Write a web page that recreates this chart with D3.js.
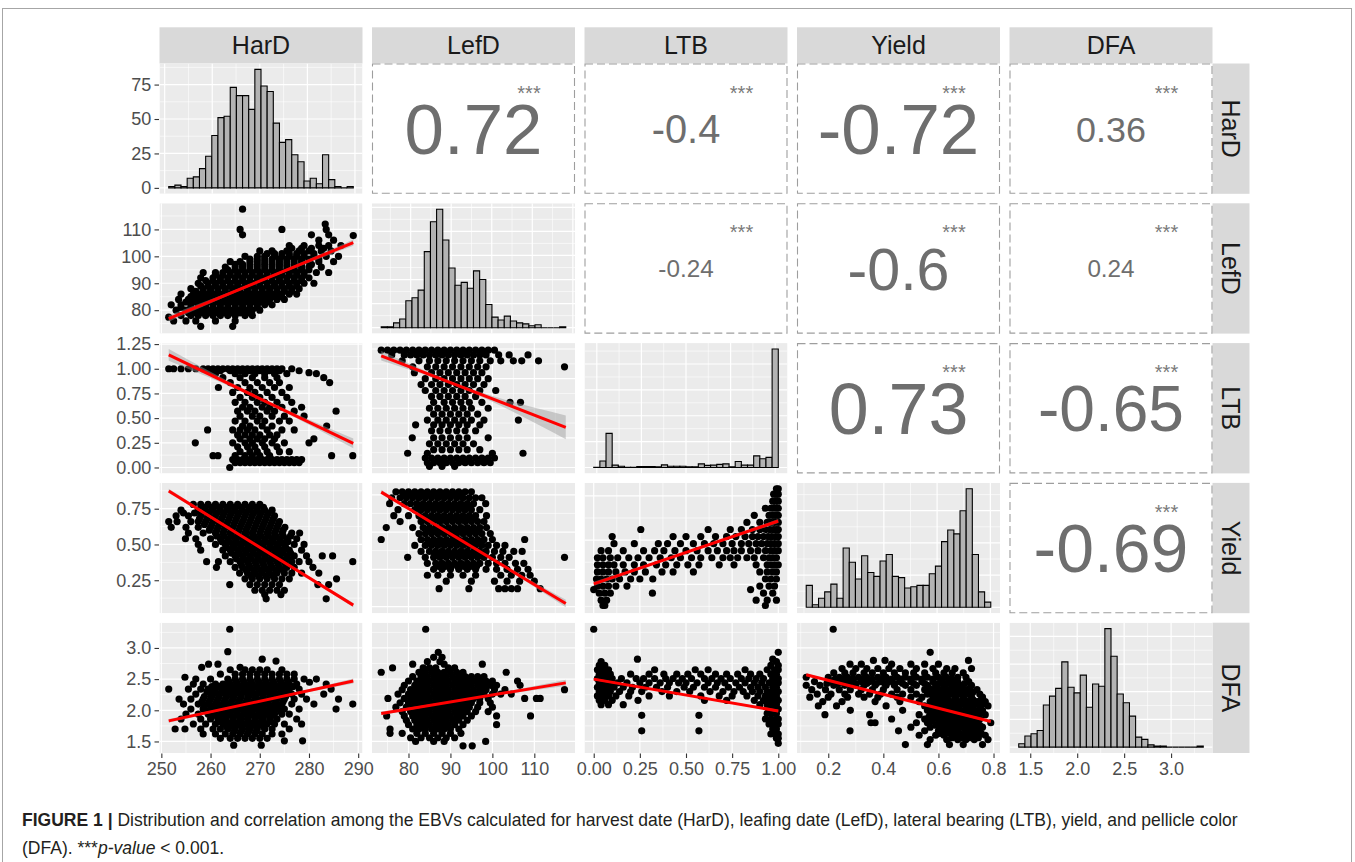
<!DOCTYPE html>
<html>
<head>
<meta charset="utf-8">
<script src="https://cdn.jsdelivr.net/npm/d3@7"></script>
<style>
  body { margin: 0; background: #fff; }
  svg { font-family: "Liberation Sans", Arial, Helvetica, sans-serif; }
</style>
</head>
<body>
<svg width="1355" height="862"></svg>
<script>
// ggpairs-style matrix: histograms on the diagonal, scatter + lm fit below, correlations above

var vars = ["HarD", "LefD", "LTB", "Yield", "DFA"];
var varMin = [251.5, 73.5, 0, 0.12, 1.41];
var varMax = [289, 117.5, 1, 0.79, 3.31];

// axis breaks and their labels (bottom axes per column, left axes per row)
var xBreaks = [[250, 260, 270, 280, 290], [80, 90, 100, 110], [0, 0.25, 0.5, 0.75, 1], [0.2, 0.4, 0.6, 0.8], [1.5, 2, 2.5, 3]];
var xLabels = [["250", "260", "270", "280", "290"], ["80", "90", "100", "110"], ["0.00", "0.25", "0.50", "0.75", "1.00"], ["0.2", "0.4", "0.6", "0.8"], ["1.5", "2.0", "2.5", "3.0"]];
var yBreaks = [[0, 25, 50, 75], [80, 90, 100, 110], [0, 0.25, 0.5, 0.75, 1, 1.25], [0.25, 0.5, 0.75], [1.5, 2, 2.5, 3]];
var yLabels = [["0", "25", "50", "75"], ["80", "90", "100", "110"], ["0.00", "0.25", "0.50", "0.75", "1.00", "1.25"], ["0.25", "0.50", "0.75"], ["1.5", "2.0", "2.5", "3.0"]];

// histogram counts, 30 bins each
var histHarD = [1, 2, 1, 7, 8, 14, 23, 38, 51, 52, 73, 67, 67, 57, 86, 74, 70, 47, 33, 35, 24, 19, 5, 7, 3, 24, 6, 1, 0, 1];
var histLefD = [1, 1, 5, 9, 28, 31, 39, 79, 110, 123, 91, 62, 44, 47, 41, 59, 50, 24, 11, 8, 12, 7, 5, 4, 2, 3, 0, 0, 0, 1];
var histLTB = [1, 25, 132, 9, 5, 1, 1, 4, 4, 4, 3, 10, 5, 5, 5, 3, 3, 14, 8, 9, 12, 14, 3, 23, 9, 9, 45, 34, 39, 458];
var histYield = [17, 2, 7, 12, 18, 7, 46, 35, 22, 40, 27, 24, 36, 41, 24, 23, 15, 16, 17, 17, 26, 32, 51, 60, 57, 75, 92, 41, 12, 4];
var histDFA = [3, 10, 12, 15, 38, 46, 53, 77, 54, 49, 65, 36, 57, 55, 107, 82, 48, 40, 28, 9, 7, 2, 1, 1, 0, 0, 0, 0, 0, 1];
var histCounts = [histHarD, histLefD, histLTB, histYield, histDFA];

// correlations (upper triangle)
var corRows = [0, 0, 0, 0, 1, 1, 1, 2, 2, 3];
var corCols = [1, 2, 3, 4, 2, 3, 4, 3, 4, 4];
var corVals = [0.72, -0.4, -0.72, 0.36, -0.24, -0.6, 0.24, 0.73, -0.65, -0.69];
var corStars = "***";

// scatter points, one row per y value: [y, x, x, x ...]
var hardLefd = [
  [74, 258, 264.5],
  [76, 252.5, 255, 257, 261, 265],
  [77.4, 251.5],
  [78, 254, 256, 257.5, 259, 260.5, 262, 263.5, 265, 267, 268.5],
  [79, 255.5, 257, 258.5, 260, 261.5, 263, 264.5, 266, 267.5],
  [80, 253, 255, 256.5, 258, 259.5, 261, 262.5, 264, 265.5, 267, 268.5, 270],
  [81, 254, 256, 257.5, 259, 260.5, 262, 263.5, 265, 266.5, 268, 269.5],
  [82, 252, 254, 256, 257.5, 259, 260.5, 262, 263.5, 265, 266.5, 268, 269.5, 271, 272.5],
  [83, 255, 256.5, 258, 259.5, 261, 262.5, 264, 265.5, 267, 268.5, 270, 271.5],
  [84, 253.5, 255.5, 257, 258.5, 260, 261.5, 263, 264.5, 266, 267.5, 269, 270.5, 272, 273.5, 275],
  [85, 256, 257.5, 259, 260.5, 262, 263.5, 265, 266.5, 268, 269.5, 271, 272.5, 274],
  [86, 254, 256.5, 258, 259.5, 261, 262.5, 264, 265.5, 267, 268.5, 270, 271.5, 273, 274.5, 276, 277.5],
  [87, 257, 258.5, 260, 261.5, 263, 264.5, 266, 267.5, 269, 270.5, 272, 273.5, 275, 276.5],
  [88, 256, 258.5, 260, 261.5, 263, 264.5, 266, 267.5, 269, 270.5, 272, 273.5, 275, 276.5, 278],
  [89, 258, 259.5, 261, 262.5, 264, 265.5, 267, 268.5, 270, 271.5, 273, 274.5, 276, 277.5],
  [90, 257.5, 259.5, 261, 262.5, 264, 265.5, 267, 268.5, 270, 271.5, 273, 274.5, 276, 277.5, 279, 281],
  [91, 259, 260.5, 262, 263.5, 265, 266.5, 268, 269.5, 271, 272.5, 274, 275.5, 277, 278.5],
  [92, 258, 260.5, 262, 263.5, 265, 266.5, 268, 269.5, 271, 272.5, 274, 275.5, 277, 278.5, 280],
  [93, 261, 262.5, 264, 265.5, 267, 268.5, 270, 271.5, 273, 274.5, 276, 277.5, 279],
  [94, 258.5, 261, 262.5, 264, 265.5, 267, 268.5, 270, 271.5, 273, 274.5, 276, 277.5, 279, 281.5, 284],
  [95, 263.5, 265, 266.5, 268, 269.5, 271, 272.5, 274, 275.5, 277, 278.5, 280],
  [96, 263, 265, 266.5, 268, 269.5, 271, 272.5, 274, 275.5, 277, 278.5, 280, 282.5],
  [97, 265, 266.5, 268, 269.5, 271, 272.5, 274, 275.5, 277, 278.5, 280.5],
  [98, 264, 266, 268, 269.5, 271, 272.5, 274, 275.5, 277, 278.5, 280, 282, 285],
  [99, 268, 269.5, 271, 272.5, 274, 275.5, 277, 278.5, 280, 282],
  [100, 267, 269.5, 271, 273, 274.5, 276, 277.5, 279, 281, 283.5, 286],
  [101, 271.5, 273, 274.5, 276, 277.5, 279, 281],
  [102, 270, 272.5, 275.5, 278, 280, 282.5, 284.5],
  [103, 276.5, 278.5, 280.5, 283],
  [104, 276, 279, 282, 284, 286.5],
  [106, 282, 285],
  [107.7, 289],
  [108, 266.5, 280.5, 284],
  [110, 266, 274.5, 283.5],
  [112, 283.3],
  [117.5, 266.5]
];

var hardLtb = [
  [1.0, 251.5, 252.5, 254, 255.5, 257, 258.5, 259.5, 260.5, 261.5, 262.5, 263.5, 264.5, 265.5, 266.5, 267.5, 268.5, 269.5, 270.5, 271.5, 272.5, 273.5, 274.5, 276.5],
  [0.98, 260, 262, 264, 266, 268, 270, 272, 274, 278],
  [0.96, 280],
  [0.95, 261, 265, 267, 269, 271, 273, 275.5, 281.5],
  [0.91, 262.5, 266, 268.5, 271, 273.5, 283],
  [0.86, 264, 267, 269.5, 272, 274, 284.2],
  [0.81, 261.6, 265.5, 268, 270.5, 273, 276],
  [0.76, 264.5, 267.5, 269, 271.5, 274.5],
  [0.71, 266, 268.5, 270, 272.5, 275.5],
  [0.66, 265, 267, 269.5, 271, 273.5, 276.5],
  [0.61, 266.5, 268, 270.5, 272, 274.5, 278.5],
  [0.57, 265.5, 267.5, 269, 271.5, 273, 277, 285.5],
  [0.52, 266, 268.5, 270, 272.5, 275, 279],
  [0.47, 265, 267, 269.5, 271, 274, 276],
  [0.42, 266.5, 268, 270.5, 272.5, 283.6],
  [0.38, 259.4, 264.5, 266, 267.5, 269, 271.5, 274.5, 277],
  [0.33, 265.5, 267, 268.5, 270, 272, 273.5],
  [0.29, 266, 268, 269.5, 271, 273, 281],
  [0.25, 256.9, 264.5, 267, 268.5, 270.5, 272.5, 275, 280],
  [0.21, 265.5, 267.5, 269, 271, 273.5],
  [0.16, 266, 268, 269.5, 271.5, 274, 276],
  [0.12, 260.5, 261.5, 265, 267, 268.5, 270, 272, 284.6, 288.9],
  [0.08, 264.5, 265.5, 266.5, 267.5, 268.5, 269.5, 270.5, 271.5, 272.5, 273.5, 274.5, 275.5, 276.5, 277.5, 278.5],
  [0.05, 265, 266, 267, 268, 269, 270, 271, 272, 273, 274, 275, 276, 277, 278],
  [0.0, 263.9]
];

var lefdLtb = [
  [0.99, 73.5, 75, 76.5, 78, 79.5, 81, 82.5, 84, 85.5, 87, 88.5, 90, 91.5, 93, 94.5, 96, 97.5, 99, 100.5],
  [0.95, 76, 79, 80.5, 82, 83.5, 85, 86.5, 88, 89.5, 91, 92.5, 94, 95.5, 97, 98.5, 101.5, 104, 108.5],
  [0.90, 78.5, 82.5, 85, 87, 89, 91, 93, 95, 97, 99.5, 102, 105, 107, 111],
  [0.85, 81, 84.5, 86.5, 88.5, 90.5, 92.5, 94.5, 96.5, 98.5, 117.2],
  [0.80, 81.4, 85.5, 87.5, 89.5, 91.5, 93.5, 95.5, 97.5],
  [0.75, 84, 86.5, 88.5, 90.5, 92.5, 94.5, 96.5, 99],
  [0.70, 83, 85.5, 87.5, 89.5, 91.5, 93.5, 95.5, 98],
  [0.65, 84, 86.5, 88.5, 90.5, 92.5, 94.5, 97, 100.8],
  [0.60, 85.5, 87.5, 89.5, 91.5, 93.5, 96],
  [0.55, 86, 88.5, 90.5, 92.5, 94.5, 97.5, 104.2, 106.7],
  [0.50, 85, 87, 89, 91, 93, 95, 99],
  [0.45, 86, 88, 90, 92, 94, 96.5],
  [0.40, 84.5, 87, 89, 91, 93, 95, 98, 106.2],
  [0.36, 81.7, 86, 88, 90, 92, 94, 97],
  [0.31, 85.5, 87.5, 89.5, 91.5, 93.5, 96],
  [0.25, 80.9, 86, 88, 90, 92, 94, 99],
  [0.20, 85, 87, 89, 91, 93, 95.5],
  [0.15, 86, 88, 90, 92, 94, 97],
  [0.12, 79.8, 84.5, 100, 107.3],
  [0.08, 84, 85.5, 87, 88.5, 90, 91.5, 93, 94.5, 96, 97.5, 99, 100.5],
  [0.04, 84.5, 86, 87.5, 89, 90.5, 92, 93.5, 95, 96.5, 98, 99.5],
  [0.01, 85, 88, 91]
];

var hardYield = [
  [0.78, 256.5, 258, 259.5, 261, 262.5, 264, 265.5, 267, 268.5, 270],
  [0.76, 258.75, 260.25, 261.75, 263.25, 264.75, 266.25, 267.75, 269.25, 270.75],
  [0.74, 254, 257.5, 259, 260.5, 262, 263.5, 265, 266.5, 268, 269.5, 271, 272.5],
  [0.72, 254.5, 256.75, 258.25, 259.75, 261.25, 262.75, 264.25, 265.75, 267.25, 268.75, 270.25, 271.75],
  [0.70, 253, 255.5, 258, 259.5, 261, 262.5, 264, 265.5, 267, 268.5, 270, 271.5, 273],
  [0.68, 257.75, 259.25, 260.75, 262.25, 263.75, 265.25, 266.75, 268.25, 269.75, 271.25, 272.75],
  [0.66, 251.5, 253.2, 256, 257.5, 259, 260.5, 262, 263.5, 265, 266.5, 268, 269.5, 271, 272.5, 274],
  [0.64, 258.75, 260.25, 261.75, 263.25, 264.75, 266.25, 267.75, 269.25, 270.75, 272.25, 273.75],
  [0.62, 252, 255, 257.5, 260, 261.5, 263, 264.5, 266, 267.5, 269, 270.5, 272, 273.5, 275.1],
  [0.60, 259.75, 261.25, 262.75, 264.25, 265.75, 267.25, 268.75, 270.25, 271.75, 273.25, 274.75],
  [0.58, 255.5, 258.5, 261, 262.5, 264, 265.5, 267, 268.5, 270, 271.5, 273, 274.5, 276.5, 278.1],
  [0.56, 261.25, 262.75, 264.25, 265.75, 267.25, 268.75, 270.25, 271.75, 273.25, 274.75, 276.25],
  [0.54, 254.9, 257, 260, 262, 263.5, 265, 266.5, 268, 269.5, 271, 272.5, 274, 275.5, 277.5],
  [0.52, 262.25, 263.75, 265.25, 266.75, 268.25, 269.75, 271.25, 272.75, 274.25, 275.75],
  [0.50, 257.5, 261, 263, 264.5, 266, 267.5, 269, 270.5, 272, 273.5, 275, 277, 279],
  [0.48, 263.25, 264.75, 266.25, 267.75, 269.25, 270.75, 272.25, 273.75, 275.25],
  [0.46, 258, 262.5, 264, 265.5, 267, 268.5, 270, 271.5, 273, 274.5, 276, 278.5],
  [0.44, 264.25, 265.75, 267.25, 268.75, 270.25, 271.75, 273.25, 274.75, 276.25],
  [0.42, 263, 265, 266.5, 268, 269.5, 271, 272.5, 274, 275.5, 277, 279.5, 282.7, 284.8],
  [0.40, 265.25, 266.75, 268.25, 269.75, 271.25, 272.75, 274.25, 275.75],
  [0.38, 259.2, 261.6, 264, 266, 267.5, 269, 270.5, 272, 273.5, 275, 276.5, 278, 280, 288.9],
  [0.36, 266.25, 267.75, 269.25, 270.75, 272.25, 273.75, 275.25],
  [0.34, 261.2, 265, 266.5, 268, 269.5, 271, 272.5, 274, 275.5, 277, 280.8],
  [0.32, 267.25, 268.75, 270.25, 271.75, 273.25, 274.75],
  [0.30, 265.9, 267.5, 269, 270.5, 272, 273.5, 275, 276.5, 278.5, 282],
  [0.28, 268.25, 269.75, 271.25, 272.75],
  [0.26, 267, 268.5, 270, 271.5, 273, 274.5, 276, 285.6],
  [0.22, 263.9, 268, 269.5, 271, 272.5, 274, 281.8, 284],
  [0.18, 269, 270.5, 272, 273.5, 275],
  [0.15, 271, 274.3],
  [0.12, 271.3, 283.5]
];

var lefdYield = [
  [0.77, 77, 78.5, 80, 81.5, 83, 84.5, 86, 87.5, 89, 90.5, 92, 93.5, 95],
  [0.75, 79.25, 80.75, 82.25, 83.75, 85.25, 86.75, 88.25, 89.75, 91.25, 92.75],
  [0.73, 76, 78, 79.5, 81, 82.5, 84, 85.5, 87, 88.5, 90, 91.5, 93, 94.5, 96, 97.5],
  [0.69, 75.5, 79, 80.5, 82, 83.5, 85, 86.5, 88, 89.5, 91, 92.5, 94, 95.5, 98.4],
  [0.67, 82.25, 83.75, 85.25, 86.75, 88.25, 89.75, 91.25, 92.75, 94.25],
  [0.65, 77.5, 81.5, 83, 84.5, 86, 87.5, 89, 90.5, 92, 93.5, 95, 97],
  [0.61, 76.5, 80, 82.5, 84, 85.5, 87, 88.5, 90, 91.5, 93, 94.5, 96, 98.6],
  [0.59, 83.75, 85.25, 86.75, 88.25, 89.75, 91.25, 92.75, 94.25, 95.75],
  [0.57, 78, 83, 84.5, 86, 87.5, 89, 90.5, 92, 93.5, 95, 96.5, 98],
  [0.53, 74.7, 81, 83.5, 85, 86.5, 88, 89.5, 91, 92.5, 94, 95.5, 97, 98.6],
  [0.51, 84.75, 86.25, 87.75, 89.25, 90.75, 92.25, 93.75, 95.25, 96.75],
  [0.49, 82.5, 84, 85.5, 87, 88.5, 90, 91.5, 93, 94.5, 96, 97.5, 99.5],
  [0.45, 73.5, 83, 84.5, 86, 87.5, 89, 90.5, 92, 93.5, 95, 96.5, 98, 100, 107.7],
  [0.43, 85.25, 86.75, 88.25, 89.75, 91.25, 92.75, 94.25, 95.75, 97.25],
  [0.41, 81.5, 84, 85.5, 87, 88.5, 90, 91.5, 93, 94.5, 96, 97.5, 99, 101, 103],
  [0.37, 83, 85, 86.5, 88, 89.5, 91, 92.5, 94, 95.5, 97, 98.5, 100.5, 102.5, 105.1, 107.1],
  [0.35, 86.25, 87.75, 89.25, 90.75, 92.25, 93.75, 95.25, 96.75, 98.25],
  [0.33, 79.8, 84, 86, 87.5, 89, 90.5, 92, 93.5, 95, 96.5, 98, 100, 102, 104, 117.2],
  [0.29, 84.5, 86.5, 88, 89.5, 91, 92.5, 94, 95.5, 97, 99, 101, 103, 105.5, 107.5],
  [0.27, 87.25, 88.75, 90.25, 91.75, 93.25, 94.75, 96.25],
  [0.25, 86, 88, 90, 92, 94, 96, 98.5, 101, 103.5, 106, 108.5],
  [0.21, 84.5, 87, 90, 93, 96, 102, 104.5, 107, 109],
  [0.17, 89, 95, 100.5, 103.5, 106.5, 110],
  [0.12, 87.3, 94.4, 101.5, 103, 104.5, 106, 111.4]
];

var ltbYield = [
  [0.79, 0.99, 1.0],
  [0.76, 0.975, 0.99, 1.0],
  [0.72, 0.97, 0.985, 1.0],
  [0.68, 0.93, 0.96, 0.975, 0.99, 1.0],
  [0.64, 0.87, 0.95, 0.97, 0.985, 1.0],
  [0.60, 0.83, 0.9, 0.94, 0.96, 0.98, 1.0],
  [0.56, 0.255, 0.62, 0.74, 0.8, 0.86, 0.9, 0.93, 0.955, 0.975, 0.99, 1.0],
  [0.52, 0.1, 0.43, 0.5, 0.58, 0.66, 0.72, 0.77, 0.82, 0.86, 0.89, 0.92, 0.945, 0.965, 0.985, 1.0],
  [0.48, 0.11, 0.22, 0.35, 0.4, 0.47, 0.54, 0.6, 0.65, 0.7, 0.75, 0.8, 0.84, 0.88, 0.91, 0.94, 0.96, 0.98, 1.0],
  [0.44, 0.04, 0.08, 0.16, 0.27, 0.33, 0.38, 0.44, 0.5, 0.56, 0.62, 0.67, 0.72, 0.76, 0.8, 0.85, 0.89, 0.93, 0.96, 0.98, 1.0],
  [0.40, 0.02, 0.05, 0.09, 0.13, 0.19, 0.24, 0.3, 0.36, 0.42, 0.47, 0.53, 0.58, 0.64, 0.7, 0.74, 0.78, 0.83, 0.87, 0.92, 0.95, 0.97, 0.99],
  [0.36, 0.02, 0.05, 0.08, 0.11, 0.16, 0.22, 0.27, 0.34, 0.39, 0.45, 0.51, 0.57, 0.68, 0.76, 0.88, 0.94, 0.96, 0.98, 1.0],
  [0.32, 0.02, 0.05, 0.08, 0.12, 0.17, 0.22, 0.28, 0.37, 0.43, 0.54, 0.9, 0.94, 0.97, 0.99],
  [0.28, 0.015, 0.04, 0.07, 0.1, 0.14, 0.2, 0.25, 0.32, 0.93, 0.96, 0.99],
  [0.24, 0.02, 0.05, 0.08, 0.12, 0.18, 0.9, 0.95, 0.98],
  [0.22, 0.0, 0.85],
  [0.20, 0.03, 0.06, 0.09, 0.318, 0.92, 0.97],
  [0.16, 0.04, 0.07, 0.88, 0.94, 0.99],
  [0.13, 0.05, 0.06, 0.93]
];

var hardDfa = [
  [3.30, 263.9],
  [2.94, 263.5],
  [2.82, 270.5],
  [2.79, 273.3],
  [2.74, 259.6, 261.5],
  [2.69, 258.2, 266],
  [2.65, 264, 267, 268.5, 270, 271.5, 274.5],
  [2.58, 262, 265, 266.5, 268, 269.5, 271, 272.5, 274, 275.5, 277],
  [2.53, 254.8],
  [2.50, 257, 260, 263.5, 265, 266.5, 268, 269.5, 271, 272.5, 274, 275.5, 277, 279, 281.5],
  [2.46, 263.75, 265.25, 266.75, 268.25, 269.75, 271.25, 272.75, 274.25, 275.75],
  [2.45, 280.1],
  [2.42, 256.5, 258.5, 261, 262.5, 264, 265.5, 267, 268.5, 270, 271.5, 273, 274.5, 276, 277.5, 283.5],
  [2.38, 260.25, 261.75, 263.25, 264.75, 266.25, 267.75, 269.25, 270.75, 272.25, 273.75, 275.25, 276.75],
  [2.34, 251.5, 255.5, 258, 259.5, 261, 262.5, 264, 265.5, 267, 268.5, 270, 271.5, 273, 274.5, 276, 278, 284.5],
  [2.30, 259.25, 260.75, 262.25, 263.75, 265.25, 266.75, 268.25, 269.75, 271.25, 272.75, 274.25, 275.75],
  [2.26, 257, 260, 261.5, 263, 264.5, 266, 267.5, 269, 270.5, 272, 273.5, 275, 276.5, 278.5, 283],
  [2.22, 258.75, 260.25, 261.75, 263.25, 264.75, 266.25, 267.75, 269.25, 270.75, 272.25, 273.75, 275.25],
  [2.18, 253.6, 256, 258.5, 260, 261.5, 263, 264.5, 266, 267.5, 269, 270.5, 272, 273.5, 275, 277, 279.5, 286],
  [2.14, 258.25, 259.75, 261.25, 262.75, 264.25, 265.75, 267.25, 268.75, 270.25, 271.75, 273.25, 274.75],
  [2.10, 254.5, 257.5, 259.5, 261, 262.5, 264, 265.5, 267, 268.5, 270, 271.5, 273, 274.5, 276.5, 281, 288.9],
  [2.06, 258.75, 260.25, 261.75, 263.25, 264.75, 266.25, 267.75, 269.25, 270.75, 272.25, 273.75],
  [2.02, 256, 258.5, 260, 261.5, 263, 264.5, 266, 267.5, 269, 270.5, 272, 273.5, 275, 278, 285.5],
  [1.98, 259.25, 260.75, 262.25, 263.75, 265.25, 266.75, 268.25, 269.75, 271.25, 272.75, 274.25],
  [1.94, 255, 257.5, 259.5, 261, 262.5, 264, 265.5, 267, 268.5, 270, 271.5, 273, 274.5, 276],
  [1.90, 260.25, 261.75, 263.25, 264.75, 266.25, 267.75, 269.25, 270.75, 272.25],
  [1.86, 254, 258, 260, 261.5, 263, 264.5, 266, 267.5, 269, 270.5, 272, 273.5, 277.5],
  [1.82, 261.75, 263.25, 264.75, 266.25, 267.75, 269.25, 270.75, 272.25],
  [1.78, 256.5, 259, 261, 262.5, 264, 265.5, 267, 268.5, 270, 271.5, 273, 275, 278.5],
  [1.74, 263.25, 264.75, 266.25, 267.75, 269.25, 270.75],
  [1.70, 252.8, 254.8, 258, 260.5, 262, 263.5, 265, 266.5, 268, 269.5, 271, 272.5, 276],
  [1.66, 264.75, 266.25, 267.75, 269.25],
  [1.62, 258.5, 261, 263, 264.5, 266, 267.5, 269, 270.5, 272.5, 274.5],
  [1.55, 262, 264, 265.5, 267, 268.5, 270, 271.5],
  [1.51, 275, 278.7],
  [1.44, 264.7, 270.3]
];

var lefdDfa = [
  [3.30, 84.1],
  [2.93, 87.1],
  [2.85, 86, 88],
  [2.78, 84.5, 87.5],
  [2.74, 81, 88.5, 97.6],
  [2.68, 76.2, 83.5, 85, 86.5, 89.5, 91],
  [2.61, 73.5, 82.5, 84, 85.5, 87, 88.5, 90, 91.5, 93, 103.3],
  [2.54, 81, 83, 84.5, 86, 87.5, 89, 90.5, 92, 93.5, 95, 96.5, 98],
  [2.47, 80, 82, 83.5, 85, 86.5, 88, 89.5, 91, 92.5, 94, 95.5, 97, 98.5, 100, 106],
  [2.40, 79, 81.5, 83, 84.5, 86, 87.5, 89, 90.5, 92, 93.5, 95, 96.5, 98, 99.5, 101, 106.6],
  [2.33, 78.5, 80.5, 82, 83.5, 85, 86.5, 88, 89.5, 91, 92.5, 94, 95.5, 97, 98.5, 100.5, 103, 117.2],
  [2.26, 77.5, 80, 81.5, 83, 84.5, 86, 87.5, 89, 90.5, 92, 93.5, 95, 96.5, 98, 100, 102, 104.5],
  [2.19, 75.1, 79, 80.5, 82, 83.5, 85, 86.5, 88, 89.5, 91, 92.5, 94, 95.5, 97, 99, 107.7, 110.5, 111.4],
  [2.12, 78, 80, 81.5, 83, 84.5, 86, 87.5, 89, 90.5, 92, 93.5, 95, 97, 99.5],
  [2.05, 77, 79.5, 81, 82.5, 84, 85.5, 87, 88.5, 90, 91.5, 93, 94.5, 96.5, 100],
  [1.98, 78.5, 80.5, 82, 83.5, 85, 86.5, 88, 89.5, 91, 92.5, 94, 96, 99],
  [1.91, 74.8, 79, 81, 82.5, 84, 85.5, 87, 88.5, 90, 91.5, 93, 95, 101, 109.1],
  [1.84, 79.5, 81.5, 83, 84.5, 86, 87.5, 89, 90.5, 92, 94],
  [1.77, 80, 82, 83.5, 85, 86.5, 88, 89.5, 91, 93, 101],
  [1.70, 75.6, 81, 82.5, 84, 85.5, 87, 88.5, 90, 92],
  [1.63, 75.6, 78.5, 82, 84, 86, 88, 90, 92.5],
  [1.56, 80.5, 83, 85, 87, 89, 91],
  [1.50, 81.7, 86, 88.5, 98.4],
  [1.43, 93, 95.2]
];

var ltbDfa = [
  [3.30, 0.0],
  [2.93, 1.0],
  [2.82, 0.237, 0.97],
  [2.78, 0.04, 0.99],
  [2.72, 0.03, 0.06, 0.96, 1.0],
  [2.65, 0.02, 0.05, 0.08, 0.33, 0.55, 0.62, 0.82, 0.94, 0.98, 1.0],
  [2.58, 0.03, 0.06, 0.09, 0.2, 0.3, 0.38, 0.45, 0.51, 0.58, 0.66, 0.72, 0.78, 0.85, 0.9, 0.96, 0.99],
  [2.51, 0.02, 0.04, 0.07, 0.1, 0.15, 0.23, 0.27, 0.33, 0.39, 0.43, 0.48, 0.53, 0.6, 0.64, 0.69, 0.74, 0.8, 0.84, 0.88, 0.92, 0.97, 1.0],
  [2.44, 0.03, 0.06, 0.09, 0.13, 0.18, 0.25, 0.3, 0.36, 0.41, 0.46, 0.5, 0.56, 0.62, 0.67, 0.71, 0.77, 0.82, 0.87, 0.91, 0.95, 0.98, 1.0],
  [2.37, 0.02, 0.05, 0.08, 0.11, 0.16, 0.21, 0.28, 0.34, 0.4, 0.49, 0.54, 0.6, 0.66, 0.73, 0.79, 0.85, 0.89, 0.93, 0.97, 0.99],
  [2.30, 0.03, 0.06, 0.09, 0.14, 0.2, 0.26, 0.37, 0.45, 0.52, 0.63, 0.7, 0.76, 0.81, 0.86, 0.9, 0.94, 0.97, 1.0],
  [2.23, 0.02, 0.05, 0.08, 0.12, 0.19, 0.3, 0.41, 0.58, 0.68, 0.75, 0.83, 0.89, 0.93, 0.96, 0.99],
  [2.16, 0.03, 0.06, 0.1, 0.24, 0.6, 0.72, 0.87, 0.92, 0.95, 0.98, 1.0],
  [2.09, 0.04, 0.08, 0.16, 0.9, 0.94, 0.97, 0.99],
  [2.02, 0.96, 0.98, 1.0],
  [1.95, 0.94, 0.97, 0.99],
  [1.92, 0.26, 0.57],
  [1.86, 0.93, 0.96, 0.99, 1.0],
  [1.78, 0.95, 0.98, 1.0],
  [1.70, 0.97, 0.99],
  [1.67, 0.26, 0.57],
  [1.62, 0.96, 0.98, 1.0],
  [1.55, 0.99, 1.0],
  [1.47, 1.0]
];

var yieldDfa = [
  [3.30, 0.218],
  [2.93, 0.57],
  [2.80, 0.364, 0.406, 0.709],
  [2.74, 0.279, 0.32, 0.43, 0.5, 0.55, 0.6],
  [2.67, 0.25, 0.3, 0.34, 0.38, 0.42, 0.46, 0.52, 0.58, 0.63, 0.66, 0.72],
  [2.60, 0.22, 0.26, 0.29, 0.33, 0.36, 0.4, 0.44, 0.48, 0.51, 0.55, 0.59, 0.62, 0.65, 0.69],
  [2.53, 0.12, 0.2, 0.24, 0.27, 0.31, 0.34, 0.38, 0.41, 0.45, 0.48, 0.52, 0.56, 0.6, 0.63, 0.67, 0.7],
  [2.50, 0.225, 0.255, 0.29, 0.325, 0.36, 0.395, 0.43, 0.465, 0.5, 0.54, 0.58, 0.615, 0.65],
  [2.46, 0.15, 0.21, 0.25, 0.28, 0.32, 0.35, 0.39, 0.42, 0.46, 0.5, 0.54, 0.58, 0.61, 0.64, 0.67, 0.71],
  [2.43, 0.195, 0.235, 0.265, 0.3, 0.34, 0.375, 0.405, 0.44, 0.47, 0.51, 0.55, 0.6, 0.63, 0.66, 0.695],
  [2.40, 0.12, 0.17, 0.22, 0.26, 0.3, 0.33, 0.37, 0.41, 0.44, 0.48, 0.52, 0.56, 0.59, 0.62, 0.65, 0.68, 0.72],
  [2.36, 0.565, 0.595, 0.625, 0.655, 0.685, 0.715],
  [2.33, 0.14, 0.19, 0.24, 0.28, 0.32, 0.36, 0.4, 0.45, 0.5, 0.55, 0.58, 0.61, 0.64, 0.67, 0.7, 0.74],
  [2.29, 0.575, 0.605, 0.635, 0.665, 0.695, 0.725],
  [2.26, 0.16, 0.21, 0.26, 0.31, 0.35, 0.39, 0.43, 0.47, 0.52, 0.56, 0.59, 0.62, 0.65, 0.68, 0.71, 0.75],
  [2.21, 0.133, 0.2, 0.27, 0.33, 0.38, 0.45, 0.5, 0.54, 0.58, 0.6, 0.63, 0.66, 0.69, 0.72, 0.76],
  [2.17, 0.585, 0.61, 0.635, 0.665, 0.695, 0.725, 0.755],
  [2.14, 0.18, 0.25, 0.37, 0.46, 0.53, 0.57, 0.6, 0.62, 0.65, 0.68, 0.71, 0.74, 0.77],
  [2.10, 0.59, 0.615, 0.64, 0.66, 0.685, 0.71, 0.735, 0.76],
  [2.07, 0.164, 0.23, 0.41, 0.55, 0.58, 0.6, 0.63, 0.65, 0.67, 0.7, 0.72, 0.75, 0.78],
  [2.03, 0.575, 0.6, 0.625, 0.65, 0.675, 0.7, 0.725, 0.75],
  [2.00, 0.28, 0.47, 0.56, 0.59, 0.61, 0.64, 0.66, 0.68, 0.71, 0.73, 0.76],
  [1.96, 0.585, 0.61, 0.635, 0.66, 0.68, 0.705, 0.73, 0.755],
  [1.93, 0.188, 0.35, 0.53, 0.57, 0.6, 0.62, 0.65, 0.67, 0.69, 0.72, 0.74, 0.77],
  [1.89, 0.565, 0.595, 0.62, 0.645, 0.67, 0.695, 0.72, 0.745],
  [1.86, 0.43, 0.55, 0.58, 0.61, 0.63, 0.66, 0.68, 0.7, 0.73, 0.75],
  [1.83, 0.575, 0.605, 0.635, 0.66, 0.685, 0.71, 0.735],
  [1.80, 0.355, 0.37, 0.52, 0.56, 0.6, 0.62, 0.65, 0.67, 0.69, 0.72, 0.74, 0.79],
  [1.76, 0.59, 0.625, 0.65, 0.675, 0.7, 0.725, 0.75],
  [1.73, 0.5, 0.57, 0.61, 0.64, 0.66, 0.68, 0.71, 0.73, 0.76],
  [1.70, 0.615, 0.645, 0.67, 0.695, 0.72, 0.74],
  [1.67, 0.279, 0.455, 0.55, 0.6, 0.63, 0.65, 0.67, 0.7, 0.72, 0.75],
  [1.63, 0.605, 0.64, 0.675, 0.7, 0.725, 0.755],
  [1.60, 0.53, 0.59, 0.62, 0.66, 0.69, 0.71, 0.74, 0.77],
  [1.56, 0.65, 0.685, 0.715, 0.745],
  [1.53, 0.57, 0.63, 0.67, 0.7, 0.73, 0.78],
  [1.45, 0.48, 0.56, 0.64, 0.69, 0.76]
];

// linear fits: [x0, y0, x1, y1] and standard-error half widths at left, middle, right
var fitLines = [
  [251.5, 76.9, 289, 105.1], [251.5, 1.14, 289, 0.244], [73.5, 0.943, 117.5, 0.339],
  [251.5, 0.874, 289, 0.076], [73.5, 0.768, 117.5, 0.02], [0, 0.252, 1, 0.608],
  [251.5, 1.83, 289, 2.47], [73.5, 1.95, 117.5, 2.44], [0, 2.50, 1, 1.99], [0.12, 2.57, 0.79, 1.82]
];
var fitSE = [
  [1.2, 0.4, 1.2], [0.06, 0.015, 0.05], [0.04, 0.015, 0.1],
  [0.015, 0.005, 0.015], [0.015, 0.005, 0.025], [0.012, 0.006, 0.012],
  [0.03, 0.01, 0.04], [0.03, 0.01, 0.05], [0.02, 0.01, 0.02], [0.02, 0.01, 0.02]
];
var scatterRow = [1, 2, 2, 3, 3, 3, 4, 4, 4, 4];
var scatterCol = [0, 0, 1, 0, 1, 2, 0, 1, 2, 3];
var scatterData = [hardLefd, hardLtb, lefdLtb, hardYield, lefdYield, ltbYield, hardDfa, lefdDfa, ltbDfa, yieldDfa];

// ---------------------------------------------------------------------------

var svg = d3.select("svg");
var pw = 203, ph = 130.3, gap = 9.5, left0 = 159.5, top0 = 63.5;
var colX = vars.map(function(d, i) { return left0 + i * (pw + gap); });
var rowY = vars.map(function(d, i) { return top0 + i * (ph + gap); });
var panelScales = vars.map(function() { return vars.map(function() { return null; }); });

// outer frame of the figure
svg.append("rect")
    .attr("x", 2.5).attr("y", 8.5)
    .attr("width", 1349).attr("height", 900)
    .attr("fill", "none").attr("stroke", "#a6a6a6").attr("stroke-width", 1);

// ggplot style 5% expansion of a range
function expand(ext) {
    var s = ext[1] - ext[0];
    return [ext[0] - 0.05 * s, ext[1] + 0.05 * s];
}

// regular breaks continued across the whole domain
function fullBreaks(br, dom) {
    var step = br[1] - br[0], lo = br[0], hi = br[br.length - 1], out = [];
    while (lo - step >= dom[0]) lo -= step;
    while (hi + step <= dom[1]) hi += step;
    for (var v = lo; v <= hi + 1e-9; v += step) out.push(+v.toFixed(6));
    return out.filter(function(v) { return v >= dom[0] && v <= dom[1]; });
}

function minorBreaks(br, dom) {
    var step = br.length > 1 ? br[1] - br[0] : 1, out = [];
    var all = fullBreaks(br, [dom[0] - step, dom[1] + step]);
    for (var i = 0; i < all.length - 1; i++) out.push((all[i] + all[i + 1]) / 2);
    return out.filter(function(v) { return v >= dom[0] && v <= dom[1]; });
}

// count axis step, ggplot picks 25/100 style steps here
function countBreaks(maxCount) {
    var best = null;
    [1, 2.5, 5, 10, 25, 50, 100, 250, 500].forEach(function(s) {
        var n = maxCount / s;
        if (best === null || Math.abs(n - 4.5) < Math.abs(maxCount / best - 4.5)) best = s;
    });
    return [0, best];
}

// gray panel with white major/minor grid
function panelBackground(g, xs, ys, xb, yb) {
    g.append("rect").attr("width", pw).attr("height", ph).attr("fill", "#ebebeb");
    var xd = xs.domain(), yd = ys.domain();
    minorBreaks(xb, xd).forEach(function(v) {
        g.append("line").attr("x1", xs(v)).attr("x2", xs(v)).attr("y1", 0).attr("y2", ph)
            .attr("stroke", "#fff").attr("stroke-width", 0.6);
    });
    minorBreaks(yb, yd).forEach(function(v) {
        g.append("line").attr("y1", ys(v)).attr("y2", ys(v)).attr("x1", 0).attr("x2", pw)
            .attr("stroke", "#fff").attr("stroke-width", 0.6);
    });
    fullBreaks(xb, xd).forEach(function(v) {
        g.append("line").attr("x1", xs(v)).attr("x2", xs(v)).attr("y1", 0).attr("y2", ph)
            .attr("stroke", "#fff").attr("stroke-width", 1.2);
    });
    fullBreaks(yb, yd).forEach(function(v) {
        g.append("line").attr("y1", ys(v)).attr("y2", ys(v)).attr("x1", 0).attr("x2", pw)
            .attr("stroke", "#fff").attr("stroke-width", 1.2);
    });
}

function panelGroup(r, c) {
    var id = "clip" + r + "_" + c;
    svg.append("clipPath").attr("id", id)
      .append("rect").attr("width", pw).attr("height", ph);
    return svg.append("g")
        .attr("transform", "translate(" + colX[c] + "," + rowY[r] + ")")
        .attr("clip-path", "url(#" + id + ")");
}

// strips
vars.forEach(function(v, i) {
    svg.append("rect").attr("x", colX[i]).attr("y", 27.3)
        .attr("width", pw).attr("height", 36.2).attr("fill", "#d9d9d9");
    svg.append("text").attr("x", colX[i] + pw / 2).attr("y", 45.4).attr("dy", "0.36em")
        .attr("text-anchor", "middle").attr("font-size", 25).attr("fill", "#1a1a1a").text(v);

    svg.append("rect").attr("x", 1212.5).attr("y", rowY[i])
        .attr("width", 37).attr("height", ph).attr("fill", "#d9d9d9");
    svg.append("text")
        .attr("transform", "translate(1231," + (rowY[i] + ph / 2) + ") rotate(90)")
        .attr("dy", "0.36em").attr("text-anchor", "middle")
        .attr("font-size", 25).attr("fill", "#1a1a1a").text(v);
});

// diagonal: histograms
vars.forEach(function(v, i) {
    var counts = histCounts[i];
    var w = (varMax[i] - varMin[i]) / 29, start = varMin[i] - w / 2;
    var xs = d3.scaleLinear().domain(expand([start, start + 30 * w])).range([0, pw]);
    var ys = d3.scaleLinear().domain(expand([0, d3.max(counts)])).range([ph, 0]);
    panelScales[i][i] = {x: xs, y: ys};

    var g = panelGroup(i, i);
    var yb = i === 0 ? yBreaks[0] : countBreaks(d3.max(counts));
    panelBackground(g, xs, ys, xBreaks[i], yb);

    // paths so that empty bins still show their outline on the baseline
    g.selectAll("path.bar")
      .data(counts)
      .join("path")
        .attr("class", "bar")
        .attr("d", function(d, k) {
            var x0 = xs(start + k * w), x1 = xs(start + (k + 1) * w);
            return "M" + x0 + "," + ys(0) + "V" + ys(d) + "H" + x1 + "V" + ys(0) + "Z";
        })
        .attr("fill", "#b3b3b3")
        .attr("stroke", "#000")
        .attr("stroke-width", 1.1);
});

// lower triangle: scatter plots with lm fits
scatterData.forEach(function(rows, k) {
    var r = scatterRow[k], c = scatterCol[k];
    var fit = fitLines[k], se = fitSE[k];
    var pts = [];
    rows.forEach(function(row) {
        row.slice(1).forEach(function(x) { pts.push([x, row[0]]); });
    });

    var xs = d3.scaleLinear().domain(expand([varMin[c], varMax[c]])).range([0, pw]);
    var yExt = d3.extent([varMin[r], varMax[r], fit[1] - se[0], fit[1] + se[0], fit[3] - se[2], fit[3] + se[2]]);
    var ys = d3.scaleLinear().domain(expand(yExt)).range([ph, 0]);
    panelScales[r][c] = {x: xs, y: ys};

    var g = panelGroup(r, c);
    panelBackground(g, xs, ys, xBreaks[c], yBreaks[r]);

    g.selectAll("circle")
      .data(pts)
      .join("circle")
        .attr("cx", function(d) { return xs(d[0]); })
        .attr("cy", function(d) { return ys(d[1]); })
        .attr("r", 3.6)
        .attr("fill", "#000");

    // confidence ribbon through left, middle and right
    var xm = (fit[0] + fit[2]) / 2, ymid = (fit[1] + fit[3]) / 2;
    var band = [[fit[0], fit[1], se[0]], [xm, ymid, se[1]], [fit[2], fit[3], se[2]]];
    g.append("path")
        .datum(band)
        .attr("d", d3.area()
            .curve(d3.curveNatural)
            .x(function(d) { return xs(d[0]); })
            .y0(function(d) { return ys(d[1] - d[2]); })
            .y1(function(d) { return ys(d[1] + d[2]); }))
        .attr("fill", "#999").attr("fill-opacity", 0.45);

    g.append("line")
        .attr("x1", xs(fit[0])).attr("y1", ys(fit[1]))
        .attr("x2", xs(fit[2])).attr("y2", ys(fit[3]))
        .attr("stroke", "#ff0000").attr("stroke-width", 3)
        .attr("stroke-linecap", "butt");
});

// upper triangle: correlation text
corVals.forEach(function(val, k) {
    var r = corRows[k], c = corCols[k];
    var g = svg.append("g").attr("transform", "translate(" + colX[c] + "," + rowY[r] + ")");
    g.append("rect").attr("x", 0.5).attr("y", 0.5)
        .attr("width", pw - 1).attr("height", ph - 1)
        .attr("fill", "#fff").attr("stroke", "#9e9e9e")
        .attr("stroke-width", 1.1).attr("stroke-dasharray", "8,4");
    var size = 97 * Math.abs(val) + 1;
    g.append("text")
        .attr("x", pw / 2).attr("y", ph / 2 + 0.358 * size)
        .attr("text-anchor", "middle").attr("font-size", size)
        .attr("fill", "#6e6e6e").text(String(val));
    g.append("text")
        .attr("x", 157).attr("y", 36)
        .attr("text-anchor", "middle").attr("font-size", 20)
        .attr("fill", "#7a7a7a").text(corStars);
});

// left axes (first column scales), bottom axes (last row scales)
function styleAxis(sel) {
    sel.select(".domain").remove();
    sel.selectAll(".tick line").attr("stroke", "#333").attr("stroke-width", 1.1);
    sel.selectAll(".tick text").attr("fill", "#4d4d4d").attr("font-size", 18)
        .attr("font-family", "'Liberation Sans', Arial, sans-serif");
}

vars.forEach(function(v, r) {
    var ys = panelScales[r][0].y;
    svg.append("g")
        .attr("transform", "translate(" + (colX[0] - 0.5) + "," + rowY[r] + ")")
        .call(d3.axisLeft(ys).tickValues(yBreaks[r])
            .tickFormat(function(d, i) { return yLabels[r][i]; })
            .tickSize(4.5).tickPadding(3.3))
        .call(styleAxis);
});

vars.forEach(function(v, c) {
    var xs = panelScales[4][c].x;
    svg.append("g")
        .attr("transform", "translate(" + colX[c] + "," + (rowY[4] + ph + 0.5) + ")")
        .call(d3.axisBottom(xs).tickValues(xBreaks[c])
            .tickFormat(function(d, i) { return xLabels[c][i]; })
            .tickSize(4.5).tickPadding(4))
        .call(styleAxis);
});

// caption
var cap1 = svg.append("text").attr("x", 22).attr("y", 826).attr("font-size", 16).attr("fill", "#231f20");
cap1.append("tspan").attr("font-weight", "bold").text("FIGURE 1 | ");
cap1.append("tspan").text("Distribution and correlation among the EBVs calculated for harvest date (HarD), leafing date (LefD), lateral bearing (LTB), yield, and pellicle color");
var capSize = 16 * 1216 / cap1.node().getComputedTextLength();
cap1.attr("font-size", capSize);

var cap2 = svg.append("text").attr("x", 22).attr("y", 854).attr("font-size", capSize).attr("fill", "#231f20");
cap2.append("tspan").text("(DFA). ***");
cap2.append("tspan").attr("font-style", "italic").text("p-value");
cap2.append("tspan").text(" < 0.001.");
</script>
</body>
</html>
